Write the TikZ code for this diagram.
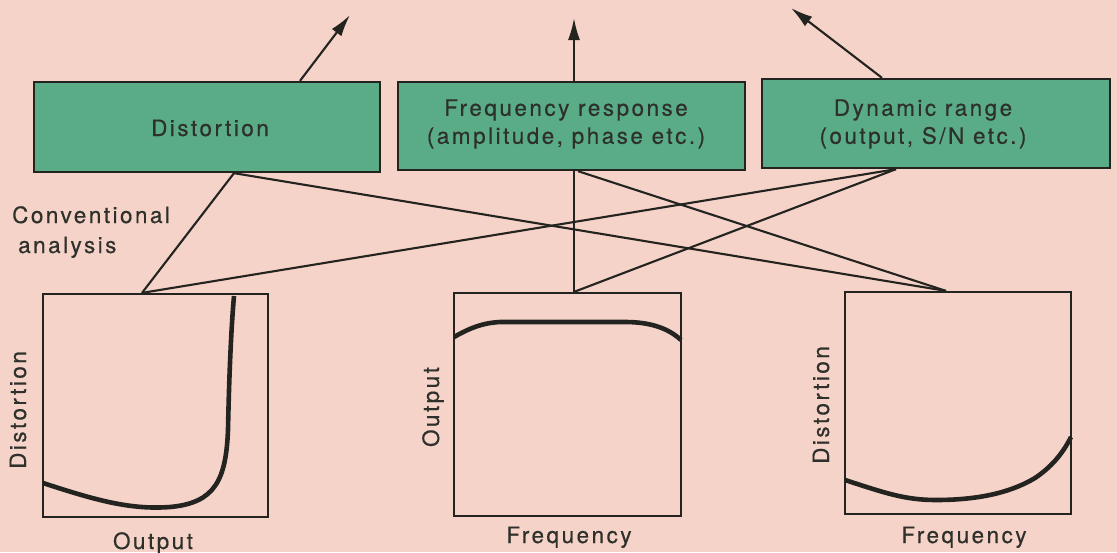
\documentclass[tikz,border=0pt]{standalone}
\usepackage{fontspec}
\setmainfont[LetterSpace=11,FakeBold=0.4]{TeX Gyre Heros}
\usetikzlibrary{arrows.meta}
\definecolor{bgpink}{RGB}{246,211,200}
\definecolor{boxgreen}{RGB}{90,172,135}
\definecolor{ink}{RGB}{35,35,32}
\definecolor{txt}{RGB}{45,48,43}
\begin{document}
\begin{tikzpicture}[x=1pt,y=-1pt,
  box/.style={draw=ink, line width=2.3pt, fill=boxgreen, inner sep=0},
  plotbox/.style={draw=ink, line width=2.2pt, inner sep=0},
  conn/.style={draw=ink, line width=2.1pt},
  arr/.style={conn, -{Latex[length=22pt,width=12pt]}},
  curve/.style={draw=ink, line width=4.6pt},
  lbl/.style={text=txt, font=\fontsize{22.5}{28}\selectfont, inner sep=0},
]
\fill[bgpink] (0,0) rectangle (1117,552);
\useasboundingbox (0,0) rectangle (1117,552);

% top boxes
\node[box, minimum width=346pt, minimum height=90pt] (b1) at (207,127) {};
\node[box, minimum width=347pt, minimum height=88pt] (b2) at (571.5,126) {};
\node[box, minimum width=348pt, minimum height=89pt] (b3) at (936,123.5) {};

% plot frames
\node[plotbox, minimum width=225pt, minimum height=223pt] (p1) at (155.5,405.5) {};
\node[plotbox, minimum width=227pt, minimum height=223pt] (p2) at (567.5,404.5) {};
\node[plotbox, minimum width=226pt, minimum height=222pt] (p3) at (958,403) {};

% arrow ends
\coordinate (t1) at (350,15);
\coordinate (t2) at (574,18);
\coordinate (t3) at (791,8);

% connectors
\draw[conn] (142,0 |- p1.north) -- (234,0 |- b1.south);
\draw[conn] (234,0 |- b1.south) -- (946,0 |- p3.north);
\draw[conn] (896,0 |- b3.south) -- (142,0 |- p1.north);
\draw[conn] (896,0 |- b3.south) -- (574,0 |- p2.north);
\draw[conn] (578,0 |- b2.south) -- (946,0 |- p3.north);
\draw[conn] (574,0 |- p2.north) -- (574,0 |- b2.south);
\draw[arr] (300,0 |- b1.north) -- (t1);
\draw[arr] (574,0 |- b2.north) -- (t2);
\draw[arr] (882,0 |- b3.north) -- (t3);

% box texts
\node[lbl, anchor=base] (b1t) at (210,136) {Distortion};
\node[lbl, align=center] (b2t) at (566,124) {Frequency response\\(amplitude, phase etc.)};
\node[lbl, align=center] (b3t) at (923,124) {Dynamic range\\(output, S/N etc.)};

% side label
\node[lbl, anchor=base west] (ca1) at (12,223) {Conventional};
\node[lbl, anchor=base west] (ca2) at (18,253) {analysis};

% axis labels
\node[lbl, rotate=90, anchor=base] (y1) at (26,410) {Distortion};
\node[lbl, rotate=90, anchor=base] (y2) at (439,407) {Output};
\node[lbl, rotate=90, anchor=base] (y3) at (829,405) {Distortion};
\node[lbl, anchor=base] (x1) at (153,549) {Output};
\node[lbl, anchor=base] (x2) at (569,543) {Frequency};
\node[lbl, anchor=base] (x3) at (964,543) {Frequency};

% curves
\draw[curve] (43,483) .. controls (95,500) and (130,510) .. (170,507)
  .. controls (215,503) and (226,480) .. (228,430)
  .. controls (229,380) and (231,330) .. (234,296);
\draw[curve] (454,337) .. controls (470,328) and (482,323) .. (500,322)
  -- (625,322) .. controls (650,322) and (668,328) .. (681,340);
\draw[curve] (845,480) .. controls (885,493) and (905,500) .. (936,500)
  .. controls (985,500) and (1015,490) .. (1035,478)
  .. controls (1050,468) and (1062,455) .. (1071,437);
\end{tikzpicture}
\end{document}
